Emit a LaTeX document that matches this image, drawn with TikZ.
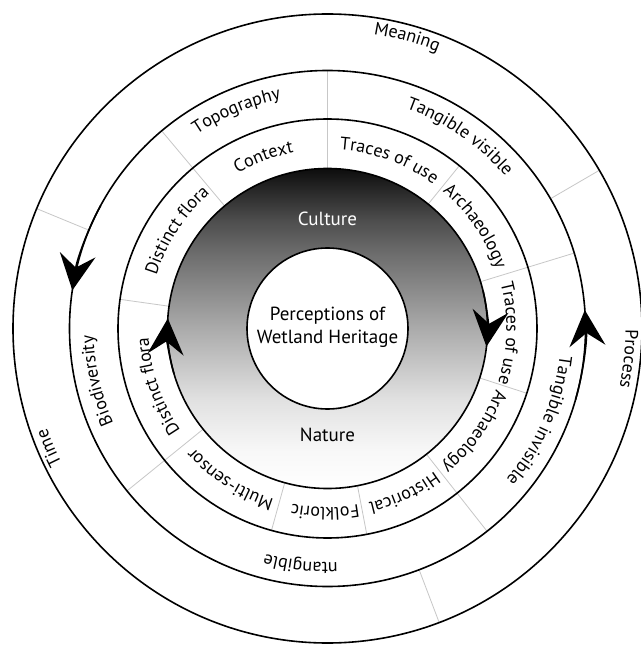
\documentclass[tikz,border=0pt]{standalone}
\usepackage{fontspec}
\setmainfont{PT Sans}
\setsansfont{PT Sans}
\usetikzlibrary{decorations.text,arrows.meta}
\pgfdeclareverticalshading{ringgrad}{100bp}{color(0bp)=(white); color(25bp)=(white); color(31bp)=(black!3); color(39bp)=(black!12); color(50bp)=(black!33); color(62bp)=(black!58); color(67bp)=(black!70); color(75bp)=(black!95); color(100bp)=(black!95)}
\newcommand\ringfont{\fontsize{18}{21}\selectfont}
\newcommand\ringlabel[4]{%
  \path[decorate, decoration={text along path, text align=center, text={|\ringfont|#4}}]
    ({#2+#3}:#1) arc[start angle={#2+#3}, end angle={#2-#3}, radius=#1];}
\begin{document}
\begin{tikzpicture}[x=1pt,y=1pt,
  ring/.style={line width=1.6pt, draw=black},
  divider/.style={line width=0.8pt, draw=black!22},
  flow/.style={line width=1.6pt, -{Stealth[length=36pt,width=36pt,inset=13pt]}},
  label/.style={font=\fontsize{19}{23}\selectfont, align=center, inner sep=0pt}
]
\useasboundingbox (-327.5,-316.5) rectangle (312.5,328.5);
\fill[white] (-327.5,-316.5) rectangle (312.5,328.5);

% gradient annulus
\shade[shading=ringgrad] (0,0) circle[radius=160];

% dividers
\foreach \a in {51,342,172,254.5,280.8} \draw[divider] (\a:160) -- (\a:209.5);
\foreach \a in {90,130,17,219,308.2} \draw[divider] (\a:160) -- (\a:258);
\foreach \a in {30.2,157.6,290.8} \draw[divider] (\a:258) -- (\a:314.5);

% rings
\draw[ring] (0,0) circle[radius=160];
\draw[ring] (0,0) circle[radius=209.5];
\draw[ring] (0,0) circle[radius=258];
\draw[ring] (0,0) circle[radius=314.5];

% centre
\node[circle, draw, line width=1.6pt, fill=white, minimum size=161pt, inner sep=0pt] (core) at (0,0) {};
\node[label] (coretext) at (0,1) {Perceptions of\\Wetland Heritage};
\node[label, text=white] (culture) at (0,110) {Culture};
\node[label] (nature) at (0,-106) {Nature};

% arrows
\draw[flow] (151.5:258) arc[start angle=151.5, end angle=171.5, radius=258];
\draw[flow] (-16:258) arc[start angle=-16, end angle=4.1, radius=258];
\draw[flow] (196.4:160) arc[start angle=196.4, end angle=176.4, radius=160];
\draw[flow] (13.5:160) arc[start angle=13.5, end angle=-6.5, radius=160];

% middle ring labels
\ringlabel{179}{110.5}{40}{Context}
\ringlabel{179}{69.9}{40}{Traces of use}
\ringlabel{179}{34.7}{40}{Archaeology}
\ringlabel{179}{-1.5}{40}{Traces of use}
\ringlabel{179}{-35}{40}{Archaeology}
\ringlabel{179}{-65}{40}{Historical}
\ringlabel{179}{-90.8}{40}{Folkloric}
\ringlabel{179}{-122.8}{40}{Multi-sensor}
\ringlabel{179}{198.8}{40}{Distinct flora}
\ringlabel{179}{147}{40}{Distinct flora}

% second ring labels
\ringlabel{234}{112.7}{40}{Topography}
\ringlabel{234}{55.4}{40}{Tangible visible}
\ringlabel{234}{-23.5}{40}{Tangible invisible}
\ringlabel{234}{-96.5}{40}{ntangible}
\ringlabel{234}{192.8}{40}{Biodiversity}

% outer ring labels
\ringlabel{298}{74.7}{30}{Meaning}
\ringlabel{298}{-5.8}{30}{Process}
\ringlabel{298}{203.3}{30}{Time}
\end{tikzpicture}
\end{document}
